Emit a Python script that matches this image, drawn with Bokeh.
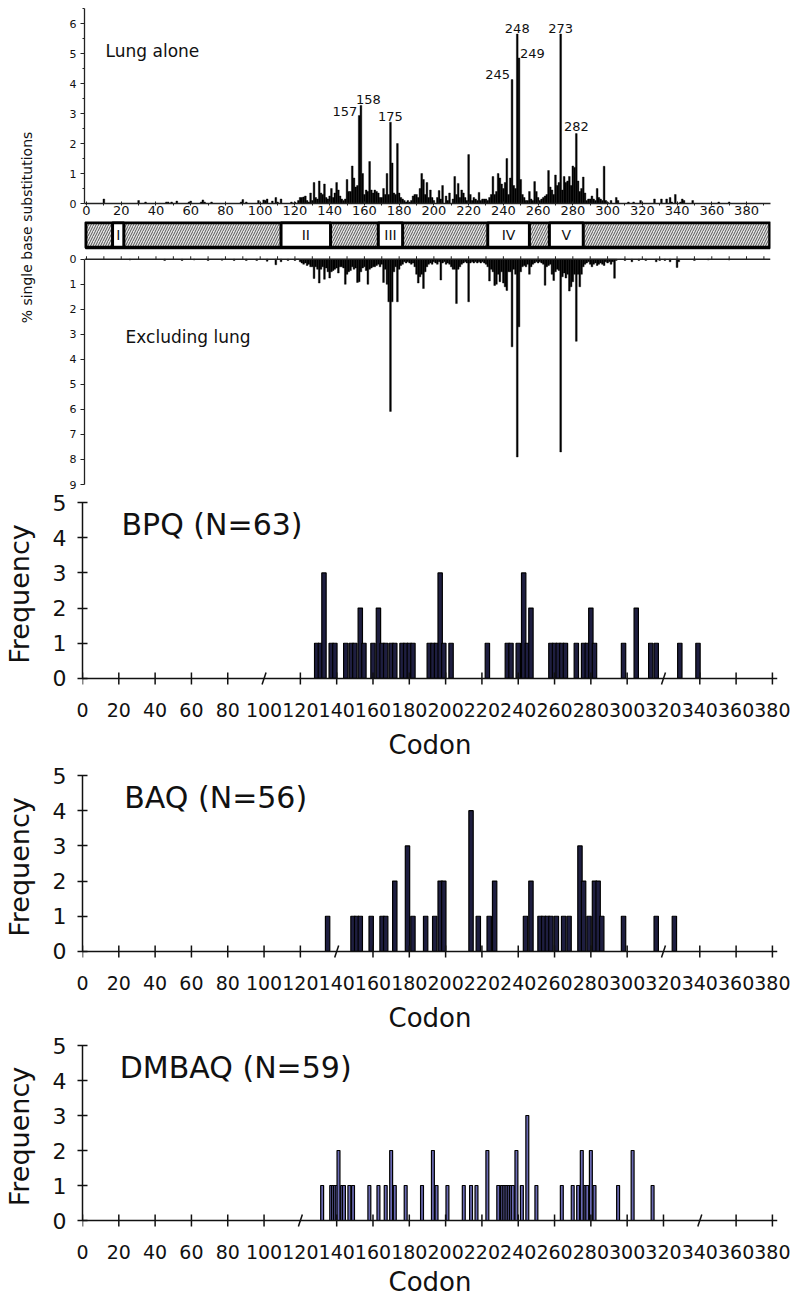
import math
from bokeh.plotting import figure
from bokeh.layouts import column, row
from bokeh.models import Range1d, FixedTicker, Span, ColumnDataSource
from bokeh.core.properties import value
from bokeh.embed import file_html
from bokeh.resources import INLINE

FONT = "DejaVu Sans"

# ---------------- data: top panel (lung alone, % single base substitutions) -------------
lung_head_codons = [10, 30, 34, 46, 47, 49, 52, 59, 60, 66,
                    67, 68, 72, 89, 90, 92, 99, 102, 103, 104,
                    107, 109, 110, 112, 118, 120, 122]
lung_head_values = [0.15, 0.1, 0.05, 0.05, 0.05, 0.05, 0.08, 0.05, 0.08, 0.05,
                    0.12, 0.05, 0.05, 0.05, 0.13, 0.05, 0.1, 0.12, 0.1, 0.15,
                    0.08, 0.2, 0.05, 0.15, 0.05, 0.05, 0.1]
lung_core_first = 123  # values below are for codons 123..300
lung_core_values = [
    0.2, 0.2, 0.22, 0.25, 0.1, 0.05, 0.35, 0.1, 0.7, 0.2,      # 123-132
    0.15, 0.75, 0.35, 0.3, 0.65, 0.2, 0.15, 0.25, 0.5, 0.2,    # 133-142
    0.35, 0.7, 0.45, 0.25, 0.15, 0.1, 0.15, 0.8, 0.4, 0.4,     # 143-152
    1.25, 0.85, 0.55, 0.6, 2.93, 3.27, 1.0, 0.3, 0.45, 0.4,    # 153-162
    1.4, 0.45, 0.35, 0.45, 0.4, 0.35, 0.2, 0.2, 0.5, 0.3,      # 163-172
    1.0, 0.3, 2.71, 1.35, 0.35, 0.3, 2.0, 0.35, 0.2, 0.15,     # 173-182
    0.1, 0.05, 0.1, 0.05, 0.1, 0.25, 0.3, 0.3, 0.2, 0.5,       # 183-192
    1.0, 0.8, 0.3, 0.7, 0.2, 0.45, 0.2, 0.1, 0.0, 0.2,         # 193-202
    0.43, 0.15, 0.6, 0.0, 0.25, 0.1, 0.35, 0.0, 0.15, 0.9,     # 203-212
    0.3, 0.67, 0.2, 0.45, 0.35, 0.2, 0.1, 1.63, 0.3, 0.1,      # 213-222
    0.2, 0.15, 0.1, 0.37, 0.1, 0.15, 0.15, 0.15, 0.1, 0.2,     # 223-232
    0.3, 0.9, 0.3, 0.4, 1.0, 0.85, 0.65, 0.5, 0.7, 1.5,        # 233-242
    0.3, 0.85, 4.13, 0.6, 0.5, 5.65, 4.85, 0.8, 0.3, 0.2,      # 243-252
    0.1, 0.1, 0.4, 0.15, 0.1, 0.73, 0.4, 0.2, 0.1, 0.15,       # 253-262
    0.2, 0.25, 0.3, 1.1, 0.55, 0.45, 0.3, 0.95, 0.6, 0.7,      # 263-272
    5.65, 0.45, 0.9, 0.7, 0.75, 0.9, 0.6, 1.25, 1.2, 2.33,     # 273-282
    0.75, 0.4, 0.5, 0.88, 0.35, 0.1, 0.15, 0.15, 0.25, 0.15,   # 283-292
    0.1, 0.5, 0.2, 0.15, 0.1, 1.24, 0.1, 0.05,                 # 293-300
]
lung_tail_codons = [302, 305, 306, 312, 315, 319, 327, 331, 334, 336,
                    337, 339, 342, 343, 344, 349, 364, 370]
lung_tail_values = [0.1, 0.2, 0.1, 0.05, 0.05, 0.1, 0.15, 0.15, 0.15, 0.2,
                    0.05, 0.3, 0.05, 0.15, 0.1, 0.1, 0.05, 0.05]

# ---------------- data: excluding lung -------------
exc_head_codons = [25, 45, 55, 62, 70, 78, 85, 92, 98, 104, 109, 112, 116]
exc_head_values = [0.03, 0.05, 0.05, 0.03, 0.05, 0.04, 0.05, 0.05, 0.05, 0.08, 0.22, 0.1, 0.05]
exc_core_first = 120  # values below are for codons 120..305
exc_core_values = [
    0.05, 0.0, 0.0, 0.1, 0.15, 0.2, 0.15, 0.25, 0.2, 0.3,      # 120-129
    0.3, 0.77, 0.3, 0.4, 0.95, 0.4, 0.3, 0.8, 0.35, 0.5,       # 130-139
    0.75, 0.5, 0.45, 0.4, 0.35, 0.55, 0.3, 0.3, 0.35, 1.0,     # 140-149
    0.6, 0.5, 0.45, 0.3, 0.4, 0.35, 0.93, 0.9, 0.5, 0.35,      # 150-159
    0.3, 0.45, 1.0, 0.4, 0.35, 0.3, 0.3, 0.25, 0.2, 0.3,       # 160-169
    0.2, 0.93, 0.4, 1.0, 1.7, 6.08, 1.7, 0.5, 0.3, 1.7,        # 170-179
    0.4, 0.25, 0.2, 0.1, 0.15, 0.1, 0.15, 0.2, 0.15, 0.3,      # 180-189
    0.6, 0.95, 0.7, 0.6, 1.17, 0.5, 0.3, 0.2, 0.15, 0.2,       # 190-199
    0.1, 0.15, 0.2, 0.1, 0.83, 0.15, 0.1, 0.2, 0.15, 0.2,      # 200-209
    0.3, 0.4, 0.4, 1.77, 0.4, 0.3, 0.2, 0.15, 0.1, 0.15,       # 210-219
    1.7, 0.15, 0.1, 0.15, 0.1, 0.15, 0.1, 0.15, 0.1, 0.15,     # 220-229
    0.2, 0.3, 0.87, 0.4, 0.5, 1.05, 1.0, 0.6, 0.9, 0.5,        # 230-239
    0.95, 1.1, 1.25, 0.5, 0.5, 3.5, 0.4, 0.6, 7.9, 2.7,        # 240-249
    0.5, 0.3, 0.25, 0.3, 0.2, 0.6, 0.3, 0.2, 0.15, 0.1,        # 250-259
    0.15, 0.1, 0.15, 0.2, 1.04, 0.3, 0.25, 0.2, 0.6, 0.85,     # 260-269
    0.5, 0.4, 0.45, 7.7, 0.7, 0.55, 0.75, 0.6, 1.27, 1.1,      # 270-279
    0.9, 0.6, 3.28, 0.6, 1.1, 0.6, 0.3, 0.2, 0.15, 0.1,        # 280-289
    0.2, 0.3, 0.2, 0.15, 0.25, 0.2, 0.15, 0.2, 0.25, 0.1,      # 290-299
    0.15, 0.1, 0.2, 0.1, 0.76, 0.05,                           # 300-305
]
exc_tail_codons = [310, 314, 318, 322, 328, 330, 333, 336, 340, 341, 350, 358, 370]
exc_tail_values = [0.05, 0.1, 0.05, 0.05, 0.1, 0.05, 0.05, 0.1, 0.33, 0.1, 0.05, 0.03, 0.03]

peak_labels = ["157", "158", "175", "245", "248", "249", "273", "282"]
peak_codons = [157, 158, 175, 245, 248, 249, 273, 282]

# conserved domains of the gene map
domain_names = ["I", "II", "III", "IV", "V"]
domain_start = [15, 112, 168, 231, 266.5]
domain_end = [21.5, 140.5, 182, 255, 286]
gene_start = -0.5
gene_end = 393.5

top_ticks = list(range(0, 381, 20))
top_minor = list(range(10, 391, 20))
exc_line_ticks = list(range(0, 391, 10))
lung_yticks = [0, 1, 2, 3, 4, 5, 6]
exc_yticks = [0, 1, 2, 3, 4, 5, 6, 7, 8, 9]

# ---------------- data: frequency panels -------------
codon_ticks = list(range(0, 381, 20))
freq_ticks = [0, 1, 2, 3, 4, 5]

bpq_codons = [129, 131, 133, 137, 139, 145, 148, 150, 153, 155,
              160, 163, 165, 167, 170, 172, 176, 178, 180, 182,
              191, 193, 195, 197, 199, 203, 223, 234, 236, 240,
              243, 245, 247, 258, 260, 262, 264, 266, 272, 276,
              278, 280, 282, 298, 305, 313, 316, 329, 339]
bpq_freq = [1, 1, 3, 1, 1, 1, 1, 1, 2, 1,
            1, 2, 1, 1, 1, 1, 1, 1, 1, 1,
            1, 1, 1, 3, 1, 1, 1, 1, 1, 1,
            3, 1, 2, 1, 1, 1, 1, 1, 1, 1,
            1, 2, 1, 1, 2, 1, 1, 1, 1]
bpq_breaks = [100, 320]

baq_codons = [135, 149, 151, 153, 159, 165, 167, 172, 179, 182,
              189, 194, 197, 199, 214, 218, 224, 227, 244, 247,
              252, 254, 256, 258, 261, 265, 268, 274, 276, 279,
              282, 284, 286, 298, 316, 326]
baq_freq = [1, 1, 1, 1, 1, 1, 1, 2, 3, 1,
            1, 1, 2, 2, 4, 1, 1, 2, 1, 2,
            1, 1, 1, 1, 1, 1, 1, 3, 2, 1,
            2, 2, 1, 1, 1, 1]
baq_breaks = [140, 320]

dmbaq_codons = [132, 137, 138, 139, 140, 141, 143, 144, 147, 149,
                158, 163, 167, 170, 172, 178, 187, 193, 195, 201,
                210, 214, 217, 223, 229, 231, 232, 233, 234, 235,
                236, 237, 239, 242, 245, 250, 264, 270, 273, 275,
                277, 278, 280, 282, 295, 303, 314]
dmbaq_freq = [1, 1, 1, 1, 1, 2, 1, 1, 1, 1,
              1, 1, 1, 2, 1, 1, 1, 2, 1, 1,
              1, 1, 1, 2, 1, 1, 1, 1, 1, 1,
              1, 1, 2, 1, 3, 1, 1, 1, 1, 2,
              1, 1, 2, 1, 1, 2, 1]
dmbaq_breaks = [120, 340]

# ---------------- assemble series -------------
lung_codons = lung_head_codons + list(range(lung_core_first, lung_core_first + len(lung_core_values))) + lung_tail_codons
lung_values = lung_head_values + lung_core_values + lung_tail_values
exc_codons = exc_head_codons + list(range(exc_core_first, exc_core_first + len(exc_core_values))) + exc_tail_codons
exc_values = exc_head_values + exc_core_values + exc_tail_values
assert len(lung_codons) == len(lung_values)
assert len(exc_codons) == len(exc_values)
assert len(bpq_codons) == len(bpq_freq)
assert len(baq_codons) == len(baq_freq)
assert len(dmbaq_codons) == len(dmbaq_freq)
lung_lookup = dict(zip(lung_codons, lung_values))


def clean(p):
    p.outline_line_color = None
    p.grid.visible = False
    p.background_fill_color = "white"
    p.border_fill_color = "white"


TOP_X = (-1.15, 393.8)
INK = "#111111"

# ---------------- lung alone -------------
lung = figure(width=732, height=221, x_range=Range1d(*TOP_X), y_range=Range1d(0, 6.5),
              output_backend="svg", toolbar_location=None,
              min_border_left=36, min_border_right=10, min_border_top=8, min_border_bottom=18)
clean(lung)
lung.vbar(x=lung_codons, top=lung_values, bottom=0, width=1.0, fill_color="black",
          line_color="black", line_width=0.4)
lung.xaxis.ticker = FixedTicker(ticks=top_ticks, minor_ticks=top_minor)
lung.xaxis.major_tick_in = 2
lung.xaxis.major_tick_out = 2
lung.xaxis.minor_tick_in = 0
lung.xaxis.minor_tick_out = 2
lung.xaxis.major_label_standoff = 0
lung.yaxis.ticker = FixedTicker(ticks=lung_yticks, minor_ticks=[0.5, 1.5, 2.5, 3.5, 4.5, 5.5, 6.5])
lung.yaxis.major_tick_in = 0
lung.yaxis.major_tick_out = 4
lung.yaxis.minor_tick_in = 0
lung.yaxis.minor_tick_out = 2
lung.yaxis.major_label_standoff = 4
for ax in (lung.xaxis[0], lung.yaxis[0]):
    ax.axis_line_color = "#222222"
    ax.axis_line_width = 1.3
    ax.major_tick_line_color = "#222222"
    ax.minor_tick_line_color = "#222222"
    ax.major_label_text_font = FONT
    ax.major_label_text_color = INK
lung.xaxis.major_label_text_font_size = "13px"
lung.yaxis.major_label_text_font_size = "11px"
lung.text(x=[11], y=[5.07], text=["Lung alone"], text_font=value(FONT), text_font_size=value("17px"),
          text_align="left", text_baseline="middle", text_color=INK)
peak_src = ColumnDataSource(dict(
    x=peak_codons,
    y=[lung_lookup[c] for c in peak_codons],
    t=peak_labels,
    align=["right", "left", "center", "right", "center", "left", "center", "center"],
    base=["middle", "bottom", "bottom", "bottom", "bottom", "middle", "bottom", "bottom"],
    dx=[-2, -5, 0, -2, 0, 1, 0, 0],
    dy=[-4, -1, -1, -1, -1, -5, -1, -3],
))
lung.text(x="x", y="y", text="t", source=peak_src, text_align="align", text_baseline="base",
          x_offset="dx", y_offset="dy", text_font=value(FONT), text_font_size=value("13px"),
          text_color=INK)

# ---------------- gene map bar -------------
bar = figure(width=732, height=29, x_range=Range1d(*TOP_X), y_range=Range1d(-0.12, 1.04),
             output_backend="svg", toolbar_location=None, x_axis_type=None, y_axis_type=None,
             min_border_left=36, min_border_right=10, min_border_top=0, min_border_bottom=0)
clean(bar)
bar.quad(left=[gene_start], right=[gene_end], bottom=[0], top=[1], fill_color="#e4e4e4",
         hatch_pattern="/", hatch_color="#555555", hatch_scale=5, hatch_weight=1, line_color=None)
bar.quad(left=domain_start, right=domain_end, bottom=0, top=1, fill_color="white",
         line_color="black", line_width=3)
bar.quad(left=[gene_start], right=[gene_end], bottom=[0], top=[1], fill_color=None,
         line_color="black", line_width=3.5)
bar.text(x=[(s + e) / 2 for s, e in zip(domain_start, domain_end)], y=[0.5] * len(domain_names),
         text=domain_names, text_font=value(FONT), text_font_size=value("14px"),
         text_align="center", text_baseline="middle", text_color=INK)

# ---------------- excluding lung -------------
exc = figure(width=732, height=240, x_range=Range1d(*TOP_X), y_range=Range1d(9, -0.15),
             x_axis_location=None, output_backend="svg", toolbar_location=None,
             min_border_left=36, min_border_right=10, min_border_top=5, min_border_bottom=6)
clean(exc)
exc.vbar(x=exc_codons, top=exc_values, bottom=0, width=1.0, fill_color="black",
         line_color="black", line_width=0.4)
exc.add_layout(Span(location=0, dimension="width", line_color="#222222", line_width=1.3))
exc.segment(x0=exc_line_ticks, y0=[0] * len(exc_line_ticks), x1=exc_line_ticks,
            y1=[-0.12] * len(exc_line_ticks), line_color="#222222", line_width=1)
ya = exc.yaxis[0]
ya.bounds = (0, 9)
ya.ticker = FixedTicker(ticks=exc_yticks)
ya.major_tick_in = 0
ya.major_tick_out = 4
ya.minor_tick_line_color = None
ya.major_label_standoff = 4
ya.major_label_text_font_size = "11px"
ya.axis_line_color = "#222222"
ya.axis_line_width = 1.3
ya.major_tick_line_color = "#222222"
ya.major_label_text_font = FONT
ya.major_label_text_color = INK
exc.text(x=[22.5], y=[3.1], text=["Excluding lung"], text_font=value(FONT), text_font_size=value("17px"),
         text_align="left", text_baseline="middle", text_color=INK)

# ---------------- shared y label for the top block -------------
lab = figure(width=48, height=490, x_range=Range1d(0, 48), y_range=Range1d(0, 490),
             output_backend="svg", toolbar_location=None, x_axis_type=None, y_axis_type=None,
             min_border=0)
clean(lab)
lab.text(x=[26], y=[263], text=["% single base substitutions"], angle=math.pi / 2,
         text_font=value(FONT), text_font_size=value("14px"), text_align="center",
         text_baseline="middle", text_color=INK)


# ---------------- frequency panels -------------
def freq_panel(codons, freqs, title, title_x, breaks, height, top_b, bottom_b, lab_standoff,
               bar_width, fill):
    p = figure(width=792, height=height, x_range=Range1d(0, 382.8), y_range=Range1d(-0.2, 5.0),
               output_backend="svg", toolbar_location=None,
               min_border_left=81, min_border_right=15, min_border_top=top_b, min_border_bottom=bottom_b)
    clean(p)
    p.vbar(x=codons, top=freqs, bottom=0, width=bar_width, fill_color=fill,
           line_color="black", line_width=1.2)
    p.add_layout(Span(location=0, dimension="width", line_color=INK, line_width=1.5))
    plain = [t for t in codon_ticks if t not in breaks]
    p.segment(x0=plain, y0=[-0.17] * len(plain), x1=plain, y1=[0.17] * len(plain),
              line_color=INK, line_width=1.5)
    p.segment(x0=[b - 1.1 for b in breaks], y0=[-0.17] * len(breaks),
              x1=[b + 1.1 for b in breaks], y1=[0.17] * len(breaks),
              line_color=INK, line_width=1.5)
    p.text(x=[title_x], y=[4.38], text=[title], text_font=value(FONT), text_font_size=value("30px"),
           text_align="left", text_baseline="middle", text_color=INK)
    xa = p.xaxis[0]
    xa.ticker = FixedTicker(ticks=codon_ticks)
    xa.axis_line_color = None
    xa.major_tick_line_color = None
    xa.minor_tick_line_color = None
    xa.major_label_standoff = 11
    xa.major_label_text_font = FONT
    xa.major_label_text_font_size = "19px"
    xa.major_label_text_color = INK
    xa.axis_label = "Codon"
    xa.axis_label_text_font = FONT
    xa.axis_label_text_font_size = "26px"
    xa.axis_label_text_font_style = "normal"
    xa.axis_label_text_color = INK
    xa.axis_label_standoff = lab_standoff
    ya = p.yaxis[0]
    ya.bounds = (0, 5)
    ya.ticker = FixedTicker(ticks=freq_ticks)
    ya.axis_line_color = INK
    ya.axis_line_width = 1.5
    ya.major_tick_in = 5
    ya.major_tick_out = 5
    ya.major_tick_line_width = 1.5
    ya.major_tick_line_color = INK
    ya.minor_tick_line_color = None
    ya.major_label_standoff = 11
    ya.major_label_text_font = FONT
    ya.major_label_text_font_size = "22px"
    ya.major_label_text_color = INK
    ya.axis_label = "Frequency"
    ya.axis_label_text_font = FONT
    ya.axis_label_text_font_size = "27px"
    ya.axis_label_text_font_style = "normal"
    ya.axis_label_text_color = INK
    ya.axis_label_standoff = 15
    return p


bpq = freq_panel(bpq_codons, bpq_freq, "BPQ (N=63)", 21.5, bpq_breaks, 272, 12, 74, 10, 2.4, "#1e1e40")
baq = freq_panel(baq_codons, baq_freq, "BAQ (N=56)", 23, baq_breaks, 273, 13, 74, 10, 2.4, "#1e1e40")
dmbaq = freq_panel(dmbaq_codons, dmbaq_freq, "DMBAQ (N=59)", 20.5, dmbaq_breaks, 264, 10, 68, 5, 1.6, "#6a6ab4")

top_block = row(lab, column(lung, bar, exc, spacing=0), spacing=0)
page = column(top_block, bpq, baq, dmbaq, spacing=0)

open("out.html", "w").write(file_html(page, INLINE))
